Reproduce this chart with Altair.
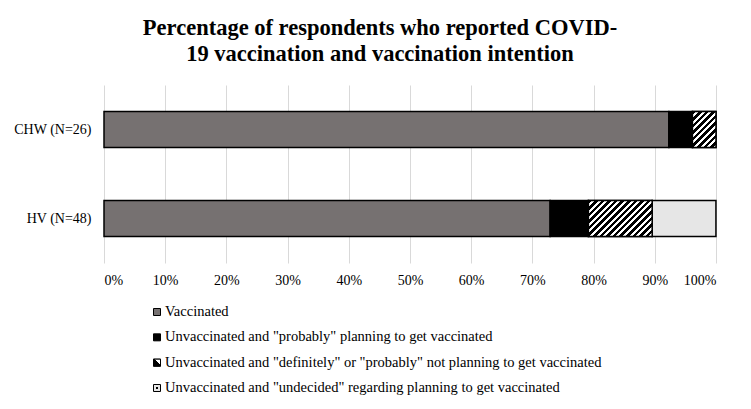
import altair as alt
import pandas as pd

# ---- data ----
groups = ["CHW (N=26)", "HV (N=48)"]
categories = [
    "Vaccinated",
    'Unvaccinated and "probably" planning to get vaccinated',
    'Unvaccinated and "definitely" or "probably" not planning to get vaccinated',
    'Unvaccinated and "undecided" regarding planning to get vaccinated',
]
chw_pct = [92.3, 3.85, 3.85, 0.0]
hv_pct = [72.9, 6.25, 10.42, 10.42]
x_ticks = [0, 10, 20, 30, 40, 50, 60, 70, 80, 90, 100]
title_lines = [
    "Percentage of respondents who reported COVID-",
    "19 vaccination and vaccination intention",
]

# ---- styles ----
FONT = "Liberation Serif"
fills = ["#767171", "#000000", "#ffffff", "#e6e6e6"]
PLOT_W, PLOT_H = 612, 178
BAR_H = 36
STRIPE_PITCH = 6.6

rows = []
for g, vals in zip(groups, [chw_pct, hv_pct]):
    start = 0.0
    for i, (c, v) in enumerate(zip(categories, vals)):
        if v > 0:
            rows.append({"group": g, "cat": c, "idx": i, "start": start, "end": start + v, "pct": v})
        start += v
df = pd.DataFrame(rows)


def hatch_gradient(width_px, height_px, pitch=STRIPE_PITCH, black=0.55):
    k = height_px / width_px
    c = (1 + k) / (1 + k * k)
    n = (width_px + height_px) / pitch
    stops = []
    i = 0
    while i / n < 1:
        a = i / n
        b = min((i + black) / n, 1)
        e = min((i + 1) / n, 1)
        stops += [
            {"offset": a, "color": "#000000"},
            {"offset": b, "color": "#000000"},
            {"offset": b, "color": "#ffffff"},
            {"offset": e, "color": "#ffffff"},
        ]
        i += 1
    return {"gradient": "linear", "x1": 0, "y1": 0, "x2": c, "y2": c * k, "stops": stops}


x_enc = alt.X(
    "start:Q",
    scale=alt.Scale(domain=[0, 100], nice=False, zero=True),
    axis=alt.Axis(
        values=x_ticks, labelExpr="datum.value + '%'", grid=True, gridColor="#d9d9d9",
        gridWidth=1, ticks=False, domain=False, labelFont=FONT, labelFontSize=14,
        labelColor="#000000", labelPadding=10, title=None,
    ),
)
y_enc = alt.Y(
    "group:N", sort=groups,
    scale=alt.Scale(domain=groups, paddingInner=0.595, paddingOuter=0.2975),
    axis=alt.Axis(title=None, ticks=False, domain=False, labelFont=FONT, labelFontSize=14,
                  labelColor="#000000", labelPadding=13),
)
fill_scale = alt.Scale(domain=categories, range=fills)

base = alt.Chart(df).mark_bar(stroke="#000000", strokeWidth=1.5).encode(
    x=x_enc, x2="end:Q", y=y_enc,
    fill=alt.Fill("cat:N", scale=fill_scale, legend=None),
)

hatch_layers = []
for g in groups:
    sub = df[(df["group"] == g) & (df["idx"] == 2)]
    w = float(sub["pct"].iloc[0]) * PLOT_W / 100.0
    hatch_layers.append(
        alt.Chart(sub).mark_bar(fill=hatch_gradient(w, BAR_H), stroke="#000000", strokeWidth=1.5)
        .encode(x=alt.X("start:Q"), x2="end:Q", y=alt.Y("group:N", sort=groups))
    )

bars = alt.layer(base, *hatch_layers)

# ---- legend (manual, below the plot) ----
leg = pd.DataFrame({"row": list(range(len(categories))), "cat": categories})
leg_y = alt.Y("row:Q", scale=alt.Scale(domain=[0, 3], range=[227, 303]), axis=None)

sym = alt.Chart(leg).mark_square(size=49, stroke="#000000", strokeWidth=1, opacity=1).encode(
    x=alt.value(53), y=leg_y, fill=alt.Fill("cat:N", scale=fill_scale, legend=None)
)
half = {"gradient": "linear", "x1": 0, "y1": 1, "x2": 1, "y2": 0,
        "stops": [{"offset": 0, "color": "#000000"}, {"offset": 0.55, "color": "#000000"},
                  {"offset": 0.55, "color": "#ffffff"}, {"offset": 1, "color": "#ffffff"}]}
sym_hatch = alt.Chart(leg[leg["row"] == 2]).mark_square(
    size=49, fill=half, stroke="#000000", strokeWidth=1, opacity=1
).encode(x=alt.value(53), y=leg_y)
sym_dot = alt.Chart(leg[leg["row"] == 3]).mark_square(size=4, fill="#000000", opacity=1).encode(
    x=alt.value(53), y=leg_y
)
txt = alt.Chart(leg).mark_text(align="left", baseline="middle", font=FONT, fontSize=14.5, color="#000000").encode(
    x=alt.value(61), y=leg_y, text="cat:N"
)
legend = alt.layer(sym, sym_hatch, sym_dot, txt)

chart = (
    alt.layer(bars, legend)
    .resolve_scale(y="independent")
    .properties(
        width=PLOT_W, height=PLOT_H,
        title=alt.TitleParams(text=title_lines, font=FONT, fontSize=22.5, fontWeight="bold",
                              color="#000000", lineHeight=26, offset=20, anchor="middle", dx=-30),
        autosize=alt.AutoSizeParams(type="none"),
        padding={"left": 96, "top": 77, "right": 27, "bottom": 138},
        background="#ffffff",
    )
    .configure_view(stroke=None)
)

chart.save("out.html", embed_options={"renderer": "svg", "actions": False})
